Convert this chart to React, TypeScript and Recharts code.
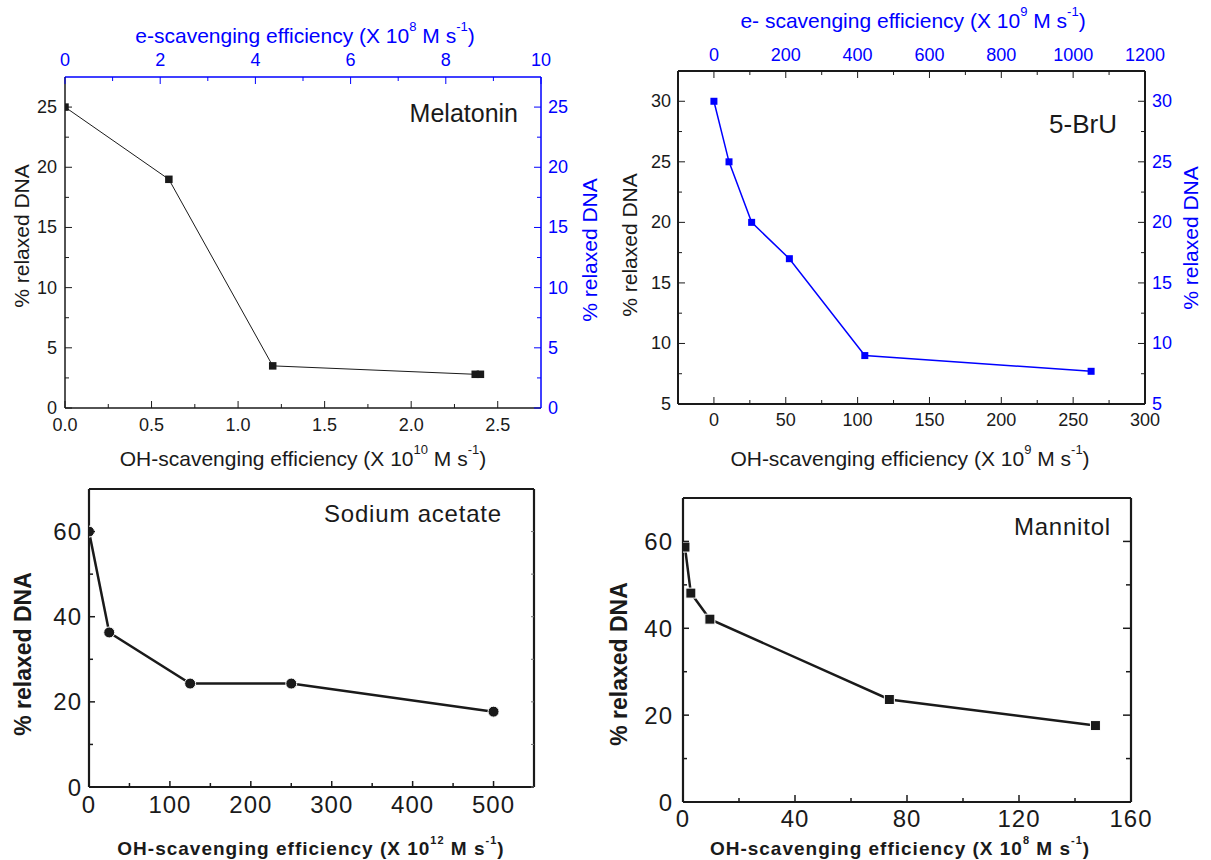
import React from 'react';
import { ComposedChart, Scatter, XAxis, YAxis } from 'recharts';

const FONT = '"Liberation Sans", Arial, Helvetica, sans-serif';
const INK = '#1a1a1a';
const BLUE = '#0000ff';

// ---------- Melatonin ----------
const melatoninOH = [0, 0.6, 1.2, 2.37, 2.4];
const melatoninRelaxed = [25, 19, 3.5, 2.8, 2.8];
const melBottomMajors = [0, 0.5, 1, 1.5, 2, 2.5];
const melBottomLabels = ['0.0', '0.5', '1.0', '1.5', '2.0', '2.5'];
const melBottomMinors = [0.25, 0.75, 1.25, 1.75, 2.25];
const melTopMajors = [0, 2, 4, 6, 8, 10];
const melTopLabels = ['0', '2', '4', '6', '8', '10'];
const melTopMinors = [1, 3, 5, 7, 9];
const melYMajors = [0, 5, 10, 15, 20, 25];
const melYLabels = ['0', '5', '10', '15', '20', '25'];
const melYMinors = [2.5, 7.5, 12.5, 17.5, 22.5];

// ---------- 5-BrU ----------
const bruOH = [0, 10.5, 26.25, 52.5, 105, 262.5];
const bruRelaxed = [30, 25, 20, 17, 9, 7.7];
const bruBottomMajors = [0, 50, 100, 150, 200, 250, 300];
const bruBottomLabels = ['0', '50', '100', '150', '200', '250', '300'];
const bruBottomMinors = [25, 75, 125, 175, 225, 275];
const bruTopMajors = [0, 200, 400, 600, 800, 1000, 1200];
const bruTopLabels = ['0', '200', '400', '600', '800', '1000', '1200'];
const bruTopMinors = [100, 300, 500, 700, 900, 1100];
const bruYMajors = [5, 10, 15, 20, 25, 30];
const bruYLabels = ['5', '10', '15', '20', '25', '30'];
const bruYMinors = [7.5, 12.5, 17.5, 22.5, 27.5];

// ---------- Sodium acetate ----------
const acetateOH = [0, 25, 125, 250, 500];
const acetateRelaxed = [60, 36.3, 24.3, 24.3, 17.7];
const aceBottomMajors = [0, 100, 200, 300, 400, 500];
const aceBottomLabels = ['0', '100', '200', '300', '400', '500'];
const aceBottomMinors = [50, 150, 250, 350, 450];
const aceYMajors = [0, 20, 40, 60];
const aceYLabels = ['0', '20', '40', '60'];
const aceYMinors = [10, 30, 50];

// ---------- Mannitol ----------
const mannitolOH = [0.7, 2.8, 9.6, 73.7, 147.3];
const mannitolRelaxed = [58.7, 48.1, 42.1, 23.6, 17.6];
const manBottomMajors = [0, 40, 80, 120, 160];
const manBottomLabels = ['0', '40', '80', '120', '160'];
const manBottomMinors = [20, 60, 100, 140];
const manYMajors = [0, 20, 40, 60];
const manYLabels = ['0', '20', '40', '60'];
const manYMinors = [10, 30, 50];

const toPoints = (xs: number[], ys: number[]) => xs.map((x, i) => ({ x, y: ys[i] }));
// invisible anchor points so the secondary (top/right) axes get a scale
const anchorPoints = (xs: number[], y0: number) => xs.map((x) => ({ x, y: y0 }));
const allTicks = (a: number[], b: number[]) => [...a, ...b].sort((p, q) => p - q);
const noShape = () => <g />;

type Side = 'bottom' | 'top' | 'left' | 'right';
interface TickStyle {
  side: Side;
  majors: number[];
  labels: string[];
  color: string;
  lineColor: string;
  fontSize: number;
  majorLen: number;
  minorLen: number;
  gap: number;
  width: number;
  ls?: number;
}

function makeTick(s: TickStyle) {
  return function TickMark(props: any) {
    const { x, y, payload } = props;
    const v = Number(payload.value);
    const i = s.majors.findIndex((m) => Math.abs(m - v) < 1e-6);
    const len = i >= 0 ? s.majorLen : s.minorLen;
    const lab = i >= 0 ? s.labels[i] : '';
    let x2 = x, y2 = y, tx = x, ty = y;
    let anchor: 'middle' | 'end' | 'start' = 'middle';
    if (s.side === 'bottom') { y2 = y - len; ty = y + s.gap; }
    if (s.side === 'top') { y2 = y + len; ty = y - s.gap; }
    if (s.side === 'left') { x2 = x + len; tx = x - s.gap; anchor = 'end'; }
    if (s.side === 'right') { x2 = x - len; tx = x + s.gap; anchor = 'start'; }
    return (
      <g>
        {len > 0 && <line x1={x} y1={y} x2={x2} y2={y2} stroke={s.lineColor} strokeWidth={s.width} />}
        {lab && (
          <text x={tx} y={ty} textAnchor={anchor} dominantBaseline="central" fill={s.color} fontSize={s.fontSize} letterSpacing={s.ls || 0} fontFamily={FONT}>
            {lab}
          </text>
        )}
      </g>
    );
  };
}

interface TitleProps {
  x: number;
  y: number;
  rot?: boolean;
  color: string;
  size: number;
  bold?: boolean;
  ls?: number;
  anchor?: 'middle' | 'end' | 'start';
  parts: string[];
}

function Title(p: TitleProps) {
  const sup = Math.round(p.size * 0.6);
  const up = Math.round(p.size * 0.42);
  const kids: React.ReactNode[] = [];
  p.parts.forEach((t, i) => {
    if (i === 0) kids.push(<tspan key={i}>{t}</tspan>);
    else if (i % 2 === 1) kids.push(<tspan key={i} dy={-up} fontSize={sup}>{t}</tspan>);
    else kids.push(<tspan key={i} dy={up}>{t}</tspan>);
  });
  return (
    <text
      x={p.x}
      y={p.y}
      textAnchor={p.anchor || 'middle'}
      dominantBaseline={p.anchor ? 'auto' : 'central'}
      transform={p.rot ? `rotate(-90 ${p.x} ${p.y})` : undefined}
      fill={p.color}
      fontSize={p.size}
      fontWeight={p.bold ? 'bold' : 'normal'}
      letterSpacing={p.ls || 0}
      fontFamily={FONT}
    >
      {kids}
    </text>
  );
}

const squareShape = (size: number, fill: string, stroke?: string) => (props: any) => (
  <rect x={props.cx - size / 2} y={props.cy - size / 2} width={size} height={size} fill={fill} stroke={stroke || 'none'} strokeWidth={stroke ? 1 : 0} />
);
const circleShape = (r: number, fill: string) => (props: any) => (
  <circle cx={props.cx} cy={props.cy} r={r} fill={fill} stroke="#fff" strokeWidth={1} />
);

function MelatoninPanel() {
  const sw = 1.5;
  return (
    <ComposedChart width={606} height={475} margin={{ top: 47, right: 25, bottom: 37, left: 25 }}>
      <XAxis
        xAxisId="b" orientation="bottom" type="number" dataKey="x" domain={[0, 2.75]} allowDataOverflow
        ticks={allTicks(melBottomMajors, melBottomMinors)} interval={0} tickSize={0} tickMargin={0} tickLine={false}
        height={30} axisLine={{ stroke: INK, strokeWidth: sw }}
        tick={makeTick({ side: 'bottom', majors: melBottomMajors, labels: melBottomLabels, color: INK, lineColor: INK, fontSize: 18, majorLen: 7, minorLen: 4, gap: 17, width: 1 })}
        label={() => <Title x={303} y={458} color={INK} size={21} parts={['OH-scavenging efficiency (X 10', '10', ' M s', '-1', ')']} />}
      />
      <XAxis
        xAxisId="t" orientation="top" type="number" dataKey="x" domain={[0, 10]} allowDataOverflow
        ticks={allTicks(melTopMajors, melTopMinors)} interval={0} tickSize={0} tickMargin={0} tickLine={false}
        height={30} axisLine={{ stroke: BLUE, strokeWidth: sw }}
        tick={makeTick({ side: 'top', majors: melTopMajors, labels: melTopLabels, color: BLUE, lineColor: BLUE, fontSize: 18, majorLen: 7, minorLen: 4, gap: 17, width: 1 })}
        label={() => <Title x={305} y={35} color={BLUE} size={21} parts={['e-scavenging efficiency (X 10', '8', ' M s', '-1', ')']} />}
      />
      <YAxis
        yAxisId="l" orientation="left" type="number" dataKey="y" domain={[0, 27.5]} allowDataOverflow
        ticks={allTicks(melYMajors, melYMinors)} interval={0} tickSize={0} tickMargin={0} tickLine={false}
        width={40} axisLine={{ stroke: INK, strokeWidth: sw }}
        tick={makeTick({ side: 'left', majors: melYMajors, labels: melYLabels, color: INK, lineColor: INK, fontSize: 18, majorLen: 7, minorLen: 4, gap: 8, width: 1 })}
        label={() => <Title x={21} y={236} rot color={INK} size={21} parts={['% relaxed DNA']} />}
      />
      <YAxis
        yAxisId="r" orientation="right" type="number" dataKey="y" domain={[0, 27.5]} allowDataOverflow
        ticks={allTicks(melYMajors, melYMinors)} interval={0} tickSize={0} tickMargin={0} tickLine={false}
        width={40} axisLine={{ stroke: BLUE, strokeWidth: sw }}
        tick={makeTick({ side: 'right', majors: melYMajors, labels: melYLabels, color: BLUE, lineColor: BLUE, fontSize: 18, majorLen: 7, minorLen: 4, gap: 7, width: 1 })}
        label={() => (
          <g>
            <Title x={589} y={250} rot color={BLUE} size={21} parts={['% relaxed DNA']} />
            <Title x={518} y={122} anchor="end" color={INK} size={25} parts={['Melatonin']} />
          </g>
        )}
      />
      <Scatter xAxisId="t" yAxisId="r" data={anchorPoints(melTopMajors, melYMajors[0])} shape={noShape} isAnimationActive={false} />
      <Scatter
        xAxisId="b" yAxisId="l" data={toPoints(melatoninOH, melatoninRelaxed)}
        line={{ stroke: INK, strokeWidth: 1 }} lineType="joint"
        shape={squareShape(7.5, INK)} isAnimationActive={false}
      />
    </ComposedChart>
  );
}

function BruPanel() {
  const sw = 2;
  return (
    <ComposedChart width={611} height={475} margin={{ top: 41, right: 26, bottom: 41, left: 38 }}>
      <XAxis
        xAxisId="b" orientation="bottom" type="number" dataKey="x" domain={[-25, 300]} allowDataOverflow
        ticks={allTicks(bruBottomMajors, bruBottomMinors)} interval={0} tickSize={0} tickMargin={0} tickLine={false}
        height={30} axisLine={{ stroke: INK, strokeWidth: sw }}
        tick={makeTick({ side: 'bottom', majors: bruBottomMajors, labels: bruBottomLabels, color: INK, lineColor: INK, fontSize: 18, majorLen: 7, minorLen: 4, gap: 16, width: 1 })}
        label={() => <Title x={310} y={458} color={INK} size={21} parts={['OH-scavenging efficiency (X 10', '9', ' M s', '-1', ')']} />}
      />
      <XAxis
        xAxisId="t" orientation="top" type="number" dataKey="x" domain={[-100, 1200]} allowDataOverflow
        ticks={allTicks(bruTopMajors, bruTopMinors)} interval={0} tickSize={0} tickMargin={0} tickLine={false}
        height={30} axisLine={{ stroke: INK, strokeWidth: sw }}
        tick={makeTick({ side: 'top', majors: bruTopMajors, labels: bruTopLabels, color: BLUE, lineColor: INK, fontSize: 18, majorLen: 7, minorLen: 4, gap: 16, width: 1 })}
        label={() => <Title x={313} y={20} color={BLUE} size={21} parts={['e- scavenging efficiency (X 10', '9', ' M s', '-1', ')']} />}
      />
      <YAxis
        yAxisId="l" orientation="left" type="number" dataKey="y" domain={[5, 32.5]} allowDataOverflow
        ticks={allTicks(bruYMajors, bruYMinors)} interval={0} tickSize={0} tickMargin={0} tickLine={false}
        width={40} axisLine={{ stroke: INK, strokeWidth: sw }}
        tick={makeTick({ side: 'left', majors: bruYMajors, labels: bruYLabels, color: INK, lineColor: INK, fontSize: 18, majorLen: 7, minorLen: 4, gap: 7, width: 1 })}
        label={() => <Title x={29} y={245} rot color={INK} size={21} parts={['% relaxed DNA']} />}
      />
      <YAxis
        yAxisId="r" orientation="right" type="number" dataKey="y" domain={[5, 32.5]} allowDataOverflow
        ticks={allTicks(bruYMajors, bruYMinors)} interval={0} tickSize={0} tickMargin={0} tickLine={false}
        width={40} axisLine={{ stroke: INK, strokeWidth: sw }}
        tick={makeTick({ side: 'right', majors: bruYMajors, labels: bruYLabels, color: BLUE, lineColor: INK, fontSize: 18, majorLen: 7, minorLen: 4, gap: 7, width: 1 })}
        label={() => (
          <g>
            <Title x={590} y={238} rot color={BLUE} size={21} parts={['% relaxed DNA']} />
            <Title x={517} y={133} anchor="end" color={INK} size={26} parts={['5-BrU']} />
          </g>
        )}
      />
      <Scatter xAxisId="t" yAxisId="r" data={anchorPoints(bruTopMajors, bruYMajors[0])} shape={noShape} isAnimationActive={false} />
      <Scatter
        xAxisId="b" yAxisId="l" data={toPoints(bruOH, bruRelaxed)}
        line={{ stroke: BLUE, strokeWidth: 1.5 }} lineType="joint"
        shape={squareShape(7, BLUE)} isAnimationActive={false}
      />
    </ComposedChart>
  );
}

function AcetatePanel() {
  const sw = 2.2;
  return (
    <ComposedChart width={600} height={385} margin={{ top: 4, right: 56, bottom: 43, left: 49 }}>
      <XAxis
        xAxisId="b" orientation="bottom" type="number" dataKey="x" domain={[0, 550]} allowDataOverflow
        ticks={allTicks(aceBottomMajors, aceBottomMinors)} interval={0} tickSize={0} tickMargin={0} tickLine={false}
        height={30} axisLine={{ stroke: INK, strokeWidth: sw }}
        tick={makeTick({ side: 'bottom', majors: aceBottomMajors, labels: aceBottomLabels, color: INK, lineColor: INK, fontSize: 24, majorLen: 6, minorLen: 4, gap: 17, width: 1.5, ls: 1 })}
        label={() => <Title x={311} y={373} color={INK} size={19} bold ls={1} parts={['OH-scavenging efficiency (X 10', '12', ' M s', '-1', ')']} />}
      />
      <XAxis xAxisId="t" orientation="top" type="number" dataKey="x" domain={[0, 550]} allowDataOverflow tick={false} tickLine={false} height={10} axisLine={{ stroke: INK, strokeWidth: sw }} />
      <YAxis
        yAxisId="l" orientation="left" type="number" dataKey="y" domain={[0, 70]} allowDataOverflow
        ticks={allTicks(aceYMajors, aceYMinors)} interval={0} tickSize={0} tickMargin={0} tickLine={false}
        width={40} axisLine={{ stroke: INK, strokeWidth: sw }}
        tick={makeTick({ side: 'left', majors: aceYMajors, labels: aceYLabels, color: INK, lineColor: INK, fontSize: 24, majorLen: 6, minorLen: 4, gap: 7, width: 1.5, ls: 1 })}
        label={() => <Title x={23} y={179} rot bold color={INK} size={23} parts={['% relaxed DNA']} />}
      />
      <YAxis
        yAxisId="r" orientation="right" type="number" dataKey="y" domain={[0, 70]} allowDataOverflow
        ticks={allTicks(aceYMajors, aceYMinors)} interval={0} tickSize={0} tickMargin={0} tickLine={false}
        width={10} axisLine={{ stroke: INK, strokeWidth: sw }}
        tick={makeTick({ side: 'right', majors: aceYMajors, labels: [], color: INK, lineColor: '#777', fontSize: 24, majorLen: 3, minorLen: 3, gap: 7, width: 1 })}
        label={() => <Title x={502} y={47} anchor="end" color={INK} size={24} ls={0.8} parts={['Sodium acetate']} />}
      />
      <Scatter xAxisId="t" yAxisId="r" data={anchorPoints(aceBottomMajors, aceYMajors[0])} shape={noShape} isAnimationActive={false} />
      <Scatter
        xAxisId="b" yAxisId="l" data={toPoints(acetateOH, acetateRelaxed)}
        line={{ stroke: INK, strokeWidth: 2.5 }} lineType="joint"
        shape={circleShape(5.5, INK)} isAnimationActive={false}
      />
    </ComposedChart>
  );
}

function MannitolPanel() {
  const sw = 2.2;
  return (
    <ComposedChart width={611} height={385} margin={{ top: 13, right: 70, bottom: 28, left: 43 }}>
      <XAxis
        xAxisId="b" orientation="bottom" type="number" dataKey="x" domain={[0, 160]} allowDataOverflow
        ticks={allTicks(manBottomMajors, manBottomMinors)} interval={0} tickSize={0} tickMargin={0} tickLine={false}
        height={30} axisLine={{ stroke: INK, strokeWidth: sw }}
        tick={makeTick({ side: 'bottom', majors: manBottomMajors, labels: manBottomLabels, color: INK, lineColor: INK, fontSize: 24, majorLen: 7, minorLen: 4, gap: 16, width: 1.5, ls: 1 })}
        label={() => <Title x={300} y={373} color={INK} size={19} bold ls={1} parts={['OH-scavenging efficiency (X 10', '8', ' M s', '-1', ')']} />}
      />
      <XAxis xAxisId="t" orientation="top" type="number" dataKey="x" domain={[0, 160]} allowDataOverflow tick={false} tickLine={false} height={10} axisLine={{ stroke: INK, strokeWidth: sw }} />
      <YAxis
        yAxisId="l" orientation="left" type="number" dataKey="y" domain={[0, 70]} allowDataOverflow
        ticks={allTicks(manYMajors, manYMinors)} interval={0} tickSize={0} tickMargin={0} tickLine={false}
        width={40} axisLine={{ stroke: INK, strokeWidth: sw }}
        tick={makeTick({ side: 'left', majors: manYMajors, labels: manYLabels, color: INK, lineColor: INK, fontSize: 24, majorLen: 6, minorLen: 4, gap: 10, width: 1.5, ls: 1 })}
        label={() => <Title x={19} y={189} rot bold color={INK} size={23} parts={['% relaxed DNA']} />}
      />
      <YAxis
        yAxisId="r" orientation="right" type="number" dataKey="y" domain={[0, 70]} allowDataOverflow
        ticks={allTicks(manYMajors, manYMinors)} interval={0} tickSize={0} tickMargin={0} tickLine={false}
        width={10} axisLine={{ stroke: INK, strokeWidth: sw }}
        tick={makeTick({ side: 'right', majors: manYMajors, labels: [], color: INK, lineColor: INK, fontSize: 24, majorLen: 8, minorLen: 5, gap: 7, width: 1.5 })}
        label={() => <Title x={511} y={60} anchor="end" color={INK} size={24} ls={0.8} parts={['Mannitol']} />}
      />
      <Scatter xAxisId="t" yAxisId="r" data={anchorPoints(manBottomMajors, manYMajors[0])} shape={noShape} isAnimationActive={false} />
      <Scatter
        xAxisId="b" yAxisId="l" data={toPoints(mannitolOH, mannitolRelaxed)}
        line={{ stroke: INK, strokeWidth: 2.5 }} lineType="joint"
        shape={squareShape(10, INK, '#fff')} isAnimationActive={false}
      />
    </ComposedChart>
  );
}

export default function App() {
  return (
    <div style={{ position: 'absolute', left: 0, top: 0, width: 1211, height: 860, background: '#fff', fontFamily: FONT }}>
      <div style={{ position: 'absolute', left: 0, top: 0 }}><MelatoninPanel /></div>
      <div style={{ position: 'absolute', left: 600, top: 0 }}><BruPanel /></div>
      <div style={{ position: 'absolute', left: 0, top: 475 }}><AcetatePanel /></div>
      <div style={{ position: 'absolute', left: 600, top: 475 }}><MannitolPanel /></div>
    </div>
  );
}
